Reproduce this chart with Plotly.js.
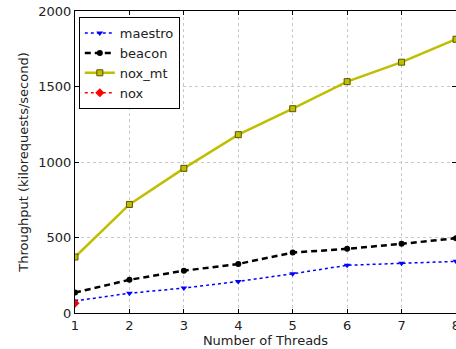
<!DOCTYPE html>
<html><head><meta charset="utf-8">
<script src="https://cdn.plot.ly/plotly-3.0.1.min.js"></script>
<style>html,body{margin:0;padding:0;background:#fff}#c{width:456px;height:349px}</style>
</head><body><div id="c"></div>
<script>
var threads = [1,2,3,4,5,6,7,8];
var maestro = [80,131,165,209,260,316,329,342];
var beacon = [135,220,280,325,400,425,458,495];
var noxMt = [371,719,958,1181,1353,1532,1661,1813];
var noxX = [1];
var nox = [65];
var yTicks = [0,500,1000,1500,2000];

var traces = [
 {x:threads,y:maestro,name:'maestro',mode:'lines+markers',
  line:{color:'#0000ff',dash:'dot',width:1.5},
  marker:{symbol:'triangle-down',size:6,color:'#0000ff'}},
 {x:threads,y:beacon,name:'beacon',mode:'lines+markers',
  line:{color:'#000000',dash:'6px,4px',width:2.5},
  marker:{symbol:'circle',size:6,color:'#000000'}},
 {x:threads,y:noxMt,name:'nox_mt',mode:'lines+markers',
  line:{color:'#bfbf00',width:2.5},
  marker:{symbol:'square',size:6,color:'#bfbf00',line:{color:'#555500',width:1}}},
 {x:noxX,y:nox,name:'nox',mode:'lines+markers',
  line:{color:'#ff0000',dash:'dot',width:1.5},
  marker:{symbol:'diamond',size:7,color:'#ff0000'}}
];
var layout = {
 width:456,height:349,
 margin:{l:75,r:0,t:11,b:36},
 paper_bgcolor:'#fff',plot_bgcolor:'#fff',
 font:{family:'DejaVu Sans',size:12,color:'#222'},
 showlegend:true,
 legend:{x:0.01,y:0.98,xanchor:'left',yanchor:'top',bordercolor:'#000',borderwidth:1,
   bgcolor:'#fff',font:{size:13,color:'#222'},tracegroupgap:0},
 xaxis:{range:[1,8],tickvals:threads,ticktext:threads.map(String),ticklabeloverflow:'allow',
   showline:true,mirror:'ticks',linecolor:'#000',linewidth:1,
   ticks:'inside',ticklen:4,tickcolor:'#000',
   showgrid:true,gridcolor:'#c8c8c8',griddash:'dot',gridwidth:1,zeroline:false,
   tickfont:{size:13,color:'#222'},
   title:{text:'Number of Threads',font:{size:13,color:'#222'},standoff:0}},
 yaxis:{range:[0,2000],tickvals:yTicks,
   showline:true,mirror:'ticks',linecolor:'#000',linewidth:1,
   ticks:'inside',ticklen:4,tickcolor:'#000',
   showgrid:true,gridcolor:'#c8c8c8',griddash:'dot',gridwidth:1,zeroline:false,
   tickfont:{size:13,color:'#222'},
   title:{text:'Throughput (kilorequests/second)',font:{size:13,color:'#222'},standoff:6}}
};
Plotly.newPlot('c',traces,layout,{displayModeBar:false,staticPlot:true});
</script></body></html>
